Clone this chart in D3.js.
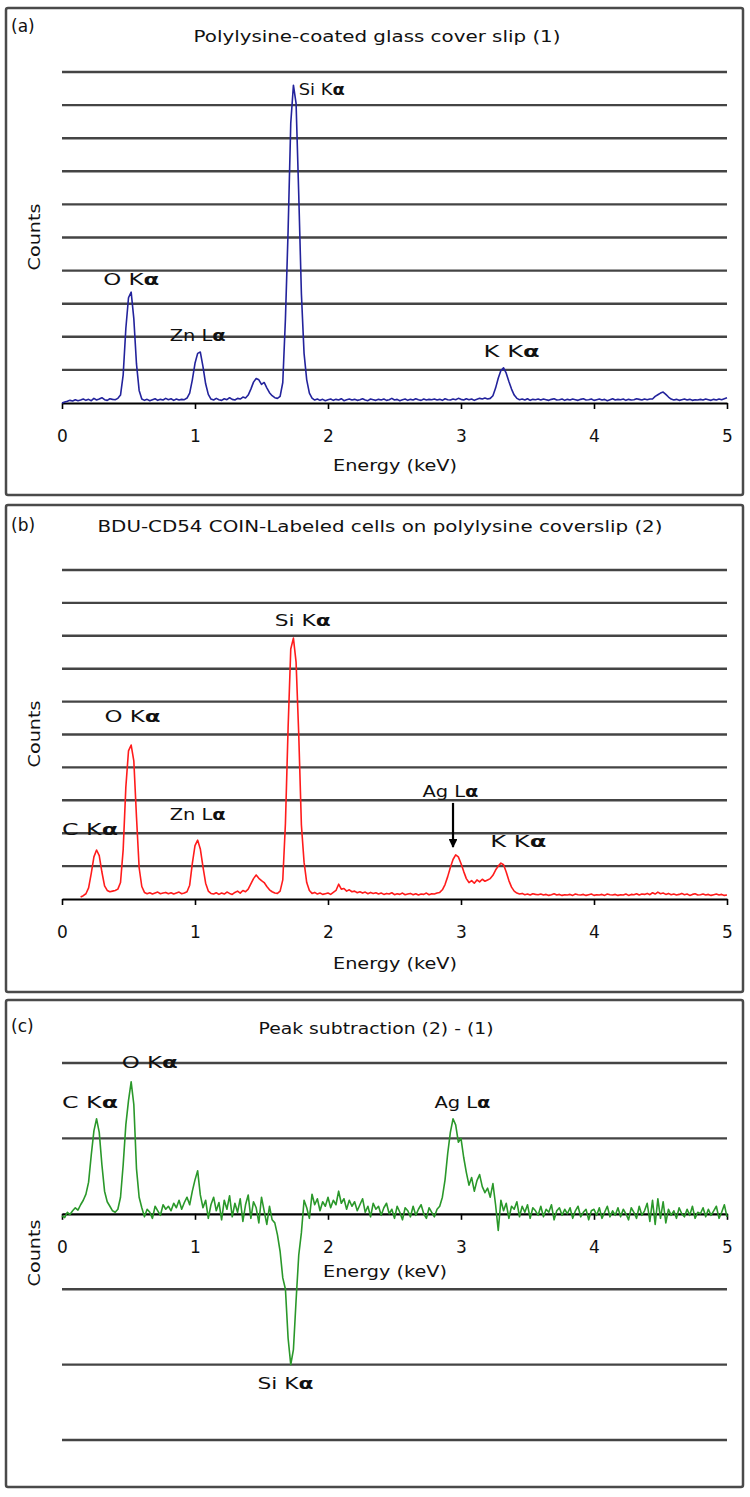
<!DOCTYPE html>
<html>
<head>
<meta charset="utf-8">
<title>EDS spectra</title>
<script src="https://cdn.jsdelivr.net/npm/d3@7"></script>
<style>
body { margin: 0; background: #fff; }
svg text { font-family: "DejaVu Sans", "Liberation Sans", sans-serif; fill: #111; }
.grid { stroke: #444; stroke-width: 2.4; }
.frame { fill: none; stroke: #4a4a4a; stroke-width: 2.5; }
</style>
</head>
<body>
<svg id="chart" width="750" height="1497"></svg>
<script>
// one channel every 0.02 keV, 0 to 5 keV
var energyStep = 0.02;

// (a) glass cover slip
var countsA = [
  0, 3, 5, 8, 6, 10, 7, 9, 12, 8,
  11, 7, 14, 9, 12, 16, 10, 8, 13, 11,
  10, 14, 24, 85, 225, 318, 335, 255, 118, 38,
  12, 8, 11, 7, 10, 13, 8, 11, 9, 14,
  10, 13, 8, 12, 9, 11, 10, 15, 30, 70,
  120, 150, 154, 110, 58, 26, 12, 9, 14, 10,
  8, 13, 10, 16, 11, 9, 14, 12, 18, 15,
  24, 42, 63, 74, 70, 56, 62, 46, 31, 22,
  16, 14, 20, 62, 255, 520, 845, 960, 905, 630,
  330, 150, 70, 30, 15, 9, 12, 8, 11, 7,
  10, 12, 8, 11, 9, 13, 7, 10, 12, 9,
  11, 8, 10, 13, 9, 7, 12, 10, 8, 11,
  9, 12, 8, 10, 14, 9, 11, 7, 10, 12,
  8, 11, 9, 13, 10, 8, 12, 9, 11, 10,
  12, 9, 11, 8, 13, 10, 9, 12, 10, 14,
  11, 9, 13, 10, 12, 8, 11, 14, 12, 15,
  12, 14, 22, 45, 75, 98, 106, 90, 65, 42,
  24, 14, 10, 12, 9, 13, 8, 11, 10, 12,
  9, 12, 10, 8, 11, 13, 9, 10, 12, 8,
  11, 9, 12, 10, 8, 11, 13, 9, 10, 12,
  8, 10, 12, 9, 11, 7, 10, 13, 9, 11,
  10, 12, 8, 11, 9, 10, 13, 11, 9, 12,
  10, 12, 12, 20, 25, 30, 33, 26, 18, 12,
  9, 11, 8, 10, 12, 9, 11, 8, 10, 9,
  11, 9, 12, 10, 8, 11, 9, 12, 10, 13,
  16
];

// (b) labelled cells, trace starts at 0.14 keV
var countsB = [
  null, null, null, null, null, null, null, 6, 10, 16,
  34, 78, 128, 149, 132, 82, 40, 26, 22, 24,
  26, 30, 50, 150, 340, 450, 468, 420, 250, 95,
  38, 20, 16, 19, 15, 18, 21, 16, 18, 20,
  16, 19, 15, 18, 21, 16, 18, 22, 42, 108,
  162, 179, 152, 98, 48, 24, 17, 15, 19, 14,
  18, 15, 21, 17, 14, 20, 24, 18, 26, 22,
  30, 46, 62, 73, 63, 56, 50, 38, 28, 22,
  18, 17, 24, 58, 230, 520, 760, 793, 720, 500,
  225, 112, 50, 26, 17, 20, 15, 18, 14, 16,
  18, 14, 20, 26, 45, 30, 32, 24, 28, 22,
  24, 19, 22, 18, 21, 16, 20, 17, 19, 15,
  18, 14, 17, 15, 19, 13, 16, 14, 18, 13,
  15, 17, 13, 16, 12, 15, 14, 18, 13, 16,
  15, 18, 20, 28, 44, 68, 96, 120, 134, 128,
  108, 84, 62, 50, 56, 48, 58, 52, 60, 54,
  58, 62, 72, 88, 100, 109, 104, 82, 56, 36,
  24, 18, 15, 17, 13, 15, 12, 16, 14, 13,
  15, 12, 14, 11, 13, 16, 12, 14, 11, 13,
  12, 14, 11, 15, 13, 12, 14, 11, 13, 15,
  11, 13, 12, 14, 11, 15, 13, 12, 14, 11,
  13, 12, 15, 11, 14, 13, 16, 12, 15, 14,
  17, 13, 19, 15, 21, 16, 18, 14, 17, 13,
  15, 12, 14, 17, 13, 15, 11, 14, 16, 12,
  13, 15, 12, 14, 11, 13, 15, 12, 14, 11,
  12
];

// (c) difference (2) - (1)
var countsC = [
  -3, -5, 2, -1, 4, 8, 5, 12, 18, 26,
  42, 78, 110, 126, 108, 65, 30, 16, 10, 4,
  2, 6, 22, 65, 118, 150, 175, 145, 60, 22,
  8, -4, 6, 2, -6, 10, 4, -2, 12, 6,
  10, 4, 14, 8, 18, 6, 15, 22, 12, 30,
  45, 57, 25, 8, 18, -6, 12, 22, 4, 15,
  -8, 18, 6, 24, -4, 14, 2, 20, -10, 12,
  25, -6, 16, 8, -12, 22, 4, -14, 10, -8,
  -12, -28, -50, -85, -100, -165, -200, -180, -115, -55,
  -25, 18, 8, -6, 26, 12, 20, 4, 16, 10,
  22, 8, 18, 12, 30, 14, 20, 6, 18, 10,
  16, 4, 12, 20, 2, 10, -4, 14, 6, 10,
  -2, 8, 14, 0, 6, -6, 10, 2, -8, 8,
  4, -4, 10, -2, 6, 12, 0, -6, 8, 2,
  -4, 6, 10, 22, 45, 80, 108, 126, 118, 95,
  100, 75, 55, 38, 48, 30, 44, 52, 36, 28,
  34, 22, 40, 12, -22, 18, 4, 14, -6, 10,
  6, 16, -4, 10, 2, 12, -6, 8, 4, -2,
  10, -4, 6, 2, 12, -8, 4, 8, -2, 6,
  0, 8, -6, 4, 10, -4, 2, 6, -8, 4,
  6, -2, 8, -6, 2, 10, -4, 4, -2, 8,
  -4, 6, 0, -8, 8, 2, -6, 10, -2, 4,
  14, -10, 18, -14, 20, -6, 16, -12, 6, -2,
  4, -6, 8, 0, -4, 6, -2, 10, -6, 2,
  0, 8, -4, 6, -2, 4, 10, -6, 2, 12,
  -4
];

var tickLabels = ["0", "1", "2", "3", "4", "5"];
var panelTags = ["(a)", "(b)", "(c)"];
var titles = [
  "Polylysine-coated glass cover slip (1)",
  "BDU-CD54 COIN-Labeled cells on polylysine coverslip (2)",
  "Peak subtraction (2) - (1)"
];

// peak labels: [element, line, energy of label's left edge, counts at label middle]
var peaksA = [["Si", "K", 1.78, 945], ["O", "K", 0.31, 372], ["Zn", "L", 0.81, 202], ["K", "K", 3.17, 154]];
var peaksB = [["Si", "K", 1.60, 845], ["O", "K", 0.32, 553], ["C", "K", 0.0, 210], ["Zn", "L", 0.81, 255], ["Ag", "L", 2.71, 325], ["K", "K", 3.22, 173]];
var peaksC = [["O", "K", 0.45, 200], ["C", "K", 0.0, 147], ["Ag", "L", 2.80, 147], ["Si", "K", 1.47, -226]];
// arrow pointing at Ag L-alpha in (b): [energy, from counts, to counts]
var arrowB = [2.94, 292, 158];

var gridAB = d3.range(100, 1001, 100);
var gridC = [-300, -200, -100, 100, 200];

var panels = [
  { counts: countsA, peaks: peaksA, colour: "#23239c", grid: gridAB,
    box: [6, 8, 743, 495], yDomain: [0, 1000], yRange: [403, 72],
    tagY: 32, titleY: 42, titleX: 377, titleLen: 367, energyY: 471, countsY: 237 },
  { counts: countsB, peaks: peaksB, colour: "#ff1c1c", grid: gridAB,
    box: [6, 505, 743, 992], yDomain: [0, 1000], yRange: [899, 570],
    tagY: 531, titleY: 532, titleX: 380, titleLen: 565, energyY: 969, countsY: 734 },
  { counts: countsC, peaks: peaksC, colour: "#2a982a", grid: gridC,
    box: [6, 1000, 743, 1487], yDomain: [-300, 200], yRange: [1440, 1063],
    tagY: 1032, titleY: 1034, titleX: 376, titleLen: 235, energyY: 1277, countsY: 1253, energyX: 385 }
];

var svg = d3.select("#chart");
var x = d3.scaleLinear().domain([0, 5]).range([62, 727]);

svg.append("defs").append("marker")
  .attr("id", "arrowhead")
  .attr("viewBox", "0 0 10 10")
  .attr("refX", 9).attr("refY", 5)
  .attr("markerWidth", 4).attr("markerHeight", 4)
  .attr("orient", "auto")
  .append("path").attr("d", "M0,0L10,5L0,10z").attr("fill", "#000");

panels.forEach(function(p, k) {
  var y = d3.scaleLinear().domain(p.yDomain).range(p.yRange);
  var g = svg.append("g");

  g.append("rect").attr("class", "frame")
    .attr("x", p.box[0]).attr("y", p.box[1])
    .attr("width", p.box[2] - p.box[0]).attr("height", p.box[3] - p.box[1])
    .attr("rx", 2);

  g.append("text").attr("x", 11).attr("y", p.tagY)
    .style("font-size", "17px").text(panelTags[k]);

  g.append("text").attr("x", p.titleX).attr("y", p.titleY)
    .attr("text-anchor", "middle")
    .attr("textLength", p.titleLen).attr("lengthAdjust", "spacingAndGlyphs")
    .style("font-size", "15px").text(titles[k]);

  g.selectAll("line.grid").data(p.grid).enter().append("line")
    .attr("class", "grid")
    .attr("x1", x(0)).attr("x2", x(5))
    .attr("y1", function(d) { return y(d); })
    .attr("y2", function(d) { return y(d); });

  var axis = g.append("g")
    .attr("transform", "translate(0," + y(0) + ")")
    .call(d3.axisBottom(x).tickValues([0, 1, 2, 3, 4, 5])
      .tickFormat(function(d, i) { return tickLabels[i]; })
      .tickSize(6).tickSizeOuter(0).tickPadding(21));
  axis.select(".domain").attr("stroke", "#000").attr("stroke-width", 2.2);
  axis.selectAll(".tick line").attr("stroke", "#000").attr("stroke-width", 1.6);
  axis.selectAll(".tick text")
    .style("font-family", '"DejaVu Sans", sans-serif')
    .style("font-size", "17px").attr("fill", "#111");

  g.append("text").attr("x", p.energyX || 395).attr("y", p.energyY)
    .attr("text-anchor", "middle")
    .attr("textLength", 124).attr("lengthAdjust", "spacingAndGlyphs")
    .style("font-size", "15px").text("Energy (keV)");

  g.append("text")
    .attr("transform", "translate(40," + p.countsY + ") rotate(-90)")
    .attr("text-anchor", "middle")
    .attr("textLength", 67).attr("lengthAdjust", "spacingAndGlyphs")
    .style("font-size", "15px").text("Counts");

  var line = d3.line()
    .defined(function(d) { return d !== null; })
    .x(function(d, i) { return x(i * energyStep); })
    .y(function(d) { return y(d); });

  g.append("path").datum(p.counts)
    .attr("fill", "none")
    .attr("stroke", p.colour)
    .attr("stroke-width", 1.6)
    .attr("stroke-linejoin", "round")
    .attr("d", line);

  p.peaks.forEach(function(pk) {
    var t = g.append("text")
      .attr("x", x(pk[2])).attr("y", y(pk[3]))
      .attr("dominant-baseline", "middle")
      .attr("textLength", pk[0] === "Si" && k === 0 ? 46 : 56)
      .attr("lengthAdjust", "spacingAndGlyphs")
      .style("font-size", "16px");
    t.append("tspan").text(pk[0] + " " + pk[1]);
    t.append("tspan").style("font-weight", "bold").text("\u03b1");
  });

  if (k === 1) {
    g.append("line")
      .attr("x1", x(arrowB[0])).attr("x2", x(arrowB[0]))
      .attr("y1", y(arrowB[1])).attr("y2", y(arrowB[2]))
      .attr("stroke", "#000").attr("stroke-width", 2.2)
      .attr("marker-end", "url(#arrowhead)");
  }
});
</script>
</body>
</html>
